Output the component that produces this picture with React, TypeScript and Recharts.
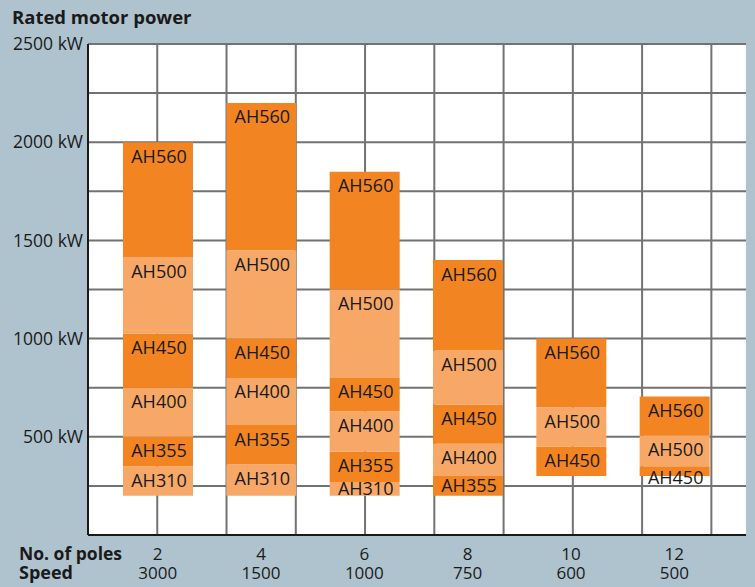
import React from 'react';
import { BarChart, Bar, XAxis, YAxis, CartesianGrid, LabelList, ReferenceLine } from 'recharts';

const poles = ['2', '4', '6', '8', '10', '12'];
const speeds = ['3000', '1500', '1000', '750', '600', '500'];
const lowerLimit = [200, 200, 200, 200, 300, 300];
const ah310Upper = [350, 360, 270, null, null, null];
const ah355Upper = [500, 560, 425, 300, null, null];
const ah400Upper = [750, 800, 630, 465, null, null];
const ah450Upper = [1025, 1000, 800, 665, 450, 350];
const ah500Upper = [1415, 1450, 1250, 940, 650, 505];
const ah560Upper = [2000, 2200, 1850, 1400, 1000, 705];
const frames = ['AH310', 'AH355', 'AH400', 'AH450', 'AH500', 'AH560'];
const frameUppers = [ah310Upper, ah355Upper, ah400Upper, ah450Upper, ah500Upper, ah560Upper];
const yTicks = [0, 250, 500, 750, 1000, 1250, 1500, 1750, 2000, 2250, 2500];
// vertical grid: 9 lines dividing the plot width into 9.5 equal columns
const gridTicks = [1, 2, 3, 4, 5, 6, 7, 8, 9];
const gridSpan = 9.5;

const DARK = '#F28421';
const LIGHT = '#F7A867';
const frameColors = [LIGHT, DARK, LIGHT, DARK, LIGHT, DARK];
const BG = '#AFC3CE';
const FONT = '"Open Sans", "Noto Sans", sans-serif';
const TEXT = '#1a1a1a';

const data = poles.map((p, i) => {
  const row: any = { poles: p, speed: speeds[i], base: lowerLimit[i] };
  let prev = lowerLimit[i];
  frames.forEach((f, k) => {
    const u = frameUppers[k][i];
    if (u == null) {
      row[f] = null;
    } else {
      row[f] = u - prev;
      prev = u;
    }
  });
  return row;
});

const makeLabel = (name: string) => (props: any) => {
  const vb = props.viewBox || {};
  const x = Number(vb.x ?? props.x);
  const y = Number(vb.y ?? props.y);
  const w = Number(vb.width ?? props.width);
  const h = Math.abs(Number(vb.height ?? props.height));
  if (props.value == null || !(h > 0.5)) return null;
  const off = h < 12 ? 17.5 : Math.min(20.5, h / 2 + 6.5);
  return (
    <text
      x={x + w / 2 + 1}
      y={y + off}
      textAnchor="middle"
      fontFamily={FONT}
      fontSize={18}
      fill={TEXT}
    >
      {name}
    </text>
  );
};

const XTick = (props: any) => {
  const { x, y, payload } = props;
  const idx = poles.indexOf(String(payload.value));
  return (
    <g>
      <text x={x} y={y + 25} textAnchor="middle" fontFamily={FONT} fontSize={17} fill={TEXT}>
        {payload.value}
      </text>
      <text x={x} y={y + 44} textAnchor="middle" fontFamily={FONT} fontSize={17} fill={TEXT}>
        {speeds[idx]}
      </text>
    </g>
  );
};

const verticalGen = ({ offset }: any) =>
  gridTicks.map((t) => offset.left + (offset.width * t) / gridSpan);

export default function App() {
  return (
    <div style={{ position: 'absolute', left: 0, top: 0, width: 755, height: 587, background: BG }}>
      <BarChart
        width={755}
        height={587}
        data={data}
        margin={{ top: 44, right: 9, bottom: 0, left: 0 }}
        barSize={70}
      >
        <CartesianGrid
          fill="#ffffff"
          stroke="#727272"
          strokeWidth={2}
          verticalCoordinatesGenerator={verticalGen}
        />
        <XAxis
          dataKey="poles"
          type="category"
          padding={{ left: 18, right: 20 }}
          height={52}
          tickSize={0}
          tickMargin={0}
          axisLine={{ stroke: TEXT, strokeWidth: 2 }}
          tickLine={false}
          tick={<XTick />}
          interval={0}
        />
        <XAxis
          xAxisId="frame"
          type="number"
          domain={[0, gridSpan]}
          allowDataOverflow
          hide
        />
        <YAxis
          width={88}
          domain={[0, 2500]}
          ticks={yTicks}
          interval={0}
          tickSize={0}
          tickMargin={5}
          tickLine={false}
          axisLine={{ stroke: TEXT, strokeWidth: 2 }}
          tick={{ fontFamily: FONT, fontSize: 17.5, fill: TEXT }}
          tickFormatter={(v: number) => (v > 0 && v % 500 === 0 ? `${v} kW` : '')}
          allowDataOverflow
        />
        <Bar dataKey="base" stackId="s" fill="none" fillOpacity={0} isAnimationActive={false} />
        {frames.map((f, k) => (
          <Bar key={f} dataKey={f} stackId="s" fill={frameColors[k]} isAnimationActive={false}>
            <LabelList dataKey={f} content={makeLabel(f)} />
          </Bar>
        ))}
        <ReferenceLine xAxisId="frame" x={gridSpan} stroke={TEXT} strokeWidth={2} />
      </BarChart>
      <svg
        width={755}
        height={587}
        style={{ position: 'absolute', left: 0, top: 0, pointerEvents: 'none' }}
      >
        <text x={12} y={24} fontFamily={FONT} fontWeight="bold" fontSize={18.5} fill={TEXT}>
          Rated motor power
        </text>
        <text x={19} y={560} fontFamily={FONT} fontWeight="bold" fontSize={17.5} fill={TEXT}>
          No. of poles
        </text>
        <text x={19} y={579} fontFamily={FONT} fontWeight="bold" fontSize={18} fill={TEXT}>
          Speed
        </text>
      </svg>
    </div>
  );
}
